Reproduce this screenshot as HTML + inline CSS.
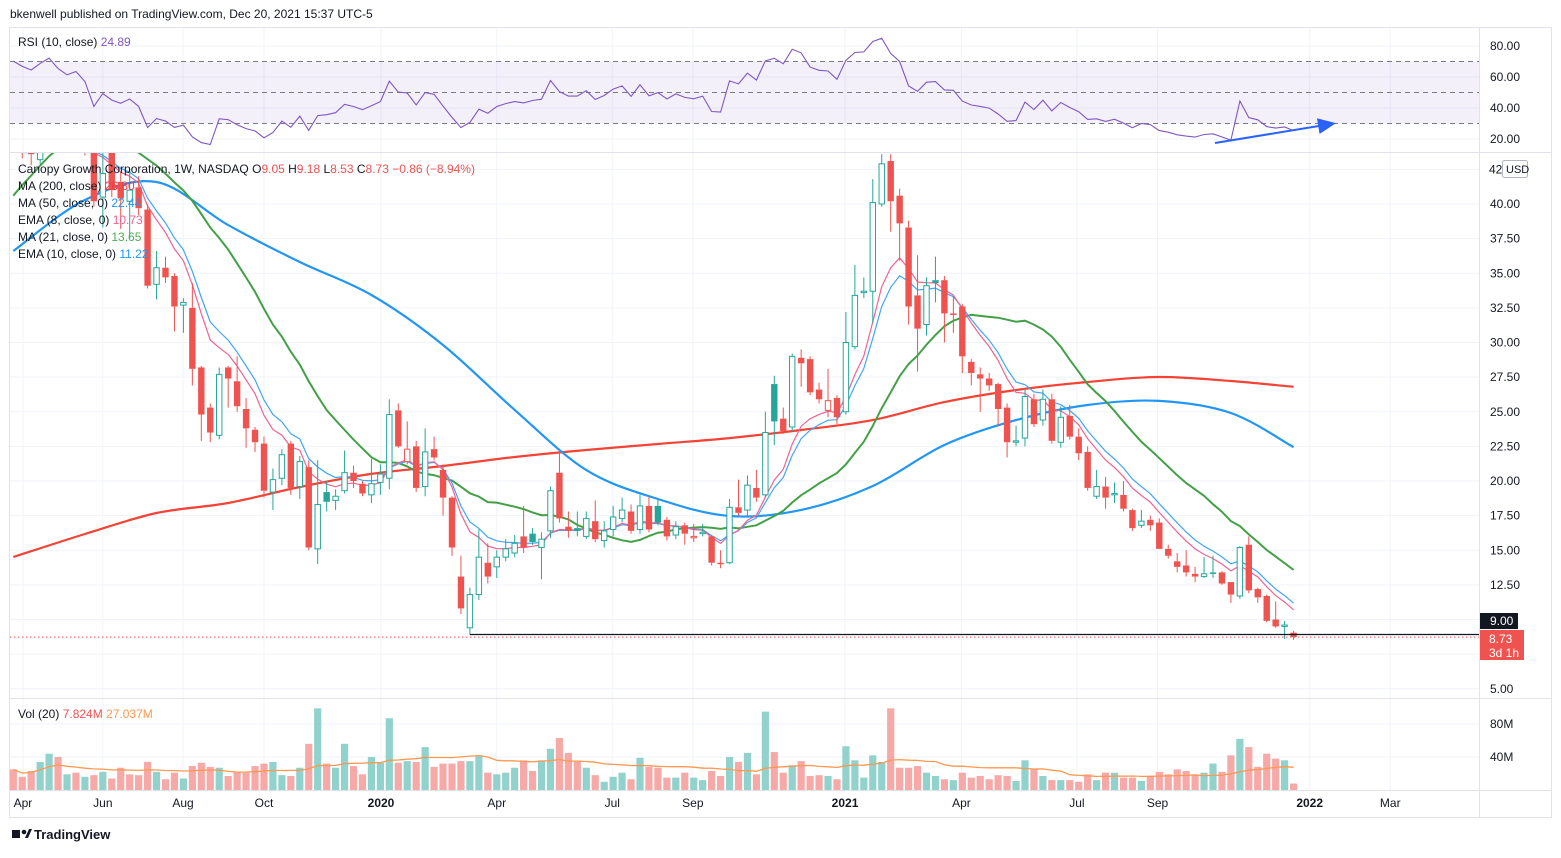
<!DOCTYPE html>
<html><head><meta charset="utf-8">
<style>
html,body{margin:0;padding:0;background:#fff;}
body{width:1561px;height:853px;overflow:hidden;font-family:"Liberation Sans",sans-serif;}
svg text{font-family:"Liberation Sans",sans-serif;}
</style></head>
<body>
<svg id="chart" width="1561" height="853" viewBox="0 0 1561 853" xmlns="http://www.w3.org/2000/svg">
<defs>
<clipPath id="pricePane"><rect x="10" y="153" width="1469" height="545"/></clipPath>
<clipPath id="rsiPane"><rect x="10" y="28" width="1469" height="124"/></clipPath>
<marker id="arrowHead" markerWidth="10" markerHeight="10" refX="8" refY="5" orient="auto"><path d="M0,1 L9,5 L0,9 z" fill="#2962ff"/></marker>
</defs>
<text x="10" y="18" font-size="12" fill="#131722">bkenwell published on TradingView.com, Dec 20, 2021 15:37 UTC-5</text>
<rect x="9.5" y="27.5" width="1542" height="790" fill="#fff" stroke="#e0e3eb"/>
<g id="grid"></g>
<rect x="10" y="61.5" width="1469" height="62" fill="#7e57c2" fill-opacity="0.09"/>
<g id="rsiG" clip-path="url(#rsiPane)"></g>
<g id="priceG" clip-path="url(#pricePane)"></g>
<g id="volG"></g>
<g id="axisG"></g>
<line x1="10" y1="152.5" x2="1551" y2="152.5" stroke="#e0e3eb"/>
<line x1="10" y1="698.5" x2="1551" y2="698.5" stroke="#e0e3eb"/>
<line x1="10" y1="790.5" x2="1551" y2="790.5" stroke="#e0e3eb"/>
<line x1="1479.5" y1="27" x2="1479.5" y2="818" stroke="#e0e3eb"/>
<line x1="1215" y1="143" x2="1334" y2="123.5" stroke="#2962ff" stroke-width="2" marker-end="url(#arrowHead)"/>
<text x="18" y="46" font-size="12" fill="#131722">RSI (10, close) <tspan fill="#7e57c2">24.89</tspan></text>
<g font-size="12" fill="#131722">
<text x="18" y="173">Canopy Growth Corporation, 1W, NASDAQ  O<tspan fill="#ef5350">9.05</tspan>  H<tspan fill="#ef5350">9.18</tspan>  L<tspan fill="#ef5350">8.53</tspan>  C<tspan fill="#ef5350">8.73</tspan>  <tspan fill="#ef5350">−0.86 (−8.94%)</tspan></text>
<text x="18" y="190">MA (200, close)  <tspan fill="#f23645">26.80</tspan></text>
<text x="18" y="207">MA (50, close, 0)  <tspan fill="#2196f3">22.44</tspan></text>
<text x="18" y="224">EMA (8, close, 0)  <tspan fill="#f06292">10.73</tspan></text>
<text x="18" y="241">MA (21, close, 0)  <tspan fill="#4caf50">13.65</tspan></text>
<text x="18" y="258">EMA (10, close, 0)  <tspan fill="#2196f3">11.22</tspan></text>
</g>
<text x="18" y="718" font-size="12" fill="#131722">Vol (20)  <tspan fill="#ef5350">7.824M</tspan>  <tspan fill="#ff9850">27.037M</tspan></text>
<g>
<rect x="12" y="830" width="8" height="8" fill="#131722"/><circle cx="24" cy="832" r="2.3" fill="#131722"/><path d="M25 838 L29 829 L32 829 L28 838 Z" fill="#131722"/>
<text x="34" y="839" font-size="13" font-weight="bold" fill="#131722">TradingView</text>
</g>
</svg>
<script>
const opens=[46.0,45.0,44.3,43.2,44.5,47.0,46.0,46.2,46.0,43.8,40.5,44.5,41.6,40.2,41.2,39.6,34.2,35.4,34.8,32.7,32.5,28.2,25.3,23.3,28.2,27.2,25.2,23.7,22.7,19.2,20.2,22.7,19.6,21.0,15.1,19.2,18.6,19.3,20.6,19.8,19.0,19.9,20.2,25.1,21.4,22.5,19.6,22.3,20.8,18.8,13.1,9.4,11.8,14.1,13.8,14.5,14.8,16.0,16.2,15.2,16.4,20.6,16.7,16.6,16.0,17.1,15.7,16.5,17.3,17.8,16.5,18.2,18.2,17.2,16.1,16.8,15.9,16.2,16.0,14.1,14.1,18.1,17.9,19.5,19.0,27.0,24.5,23.9,28.9,28.8,26.6,25.1,26.0,25.0,29.7,33.6,33.7,40.0,43.1,40.6,38.3,33.4,31.3,34.5,34.5,32.1,32.6,28.6,27.7,27.4,27.0,25.3,22.8,23.1,25.9,24.4,25.9,22.8,24.7,23.2,22.1,18.9,19.6,19.0,19.0,17.9,16.8,17.2,17.0,15.1,14.2,13.9,13.3,13.1,13.4,13.4,12.7,11.7,15.4,12.2,11.7,10.0,9.5,9.05];
const closes=[44.6,44.0,43.6,45.0,46.3,45.2,44.5,45.1,44.0,40.2,42.2,41.0,40.4,41.0,39.7,34.1,35.4,34.7,32.6,32.9,28.1,24.8,23.5,27.7,27.4,25.4,23.8,22.8,19.3,20.1,21.9,19.5,21.4,15.2,18.3,18.5,18.9,20.6,20.0,19.1,19.8,20.5,24.8,22.5,22.3,19.5,22.1,21.7,18.8,15.2,10.8,11.8,14.5,13.1,14.5,15.1,15.5,15.2,15.6,15.8,19.3,17.3,16.4,16.4,17.3,15.8,16.4,17.4,17.9,16.4,18.2,16.5,17.0,16.0,16.7,16.2,16.0,16.3,14.1,14.0,18.1,17.7,19.7,18.8,23.5,24.3,23.6,29.0,28.5,26.4,25.9,25.8,24.6,30.0,33.4,33.7,40.1,42.9,40.2,38.6,32.6,31.0,34.1,34.3,32.1,32.0,29.0,27.8,27.4,26.9,25.2,22.8,22.9,26.1,24.1,25.9,22.9,24.6,23.2,22.0,19.5,19.6,18.8,19.1,18.0,16.6,17.1,16.8,15.1,14.6,13.8,13.4,13.1,13.3,13.35,12.6,11.8,15.2,12.1,11.6,9.9,9.5,9.6,8.73];
const highs=[47.0,46.0,45.2,45.8,47.5,48.0,46.8,47.3,47.0,44.5,44.0,45.5,42.3,42.5,42.0,40.0,36.6,36.2,35.0,33.2,34.3,28.3,25.6,28.2,28.3,29.0,26.0,23.9,23.2,20.9,22.3,22.9,21.8,21.5,21.5,20.0,19.4,22.2,21.1,20.0,21.6,21.2,25.9,25.6,24.3,22.9,23.8,23.2,21.2,18.9,14.6,12.3,16.5,15.5,15.0,15.8,16.1,18.2,16.6,16.3,19.6,22.1,17.8,17.8,17.8,18.6,17.1,18.2,18.8,18.3,19.0,18.9,18.7,17.4,17.1,17.0,16.9,16.9,16.1,15.0,18.7,20.1,20.4,20.8,25.0,27.6,25.3,29.2,29.5,29.0,27.1,28.1,26.2,32.2,35.6,34.7,41.8,43.6,43.6,41.1,38.8,36.3,34.7,36.2,34.8,33.3,32.8,28.8,28.2,27.8,27.1,25.6,24.0,26.6,26.3,26.6,26.3,25.4,25.5,23.8,22.5,20.8,20.3,19.9,20.0,18.0,17.9,17.5,17.3,15.4,14.8,15.0,13.8,14.5,14.6,13.5,12.7,15.3,16.0,12.3,11.8,11.3,9.9,9.18];
const lows=[44.0,43.3,42.8,42.9,44.0,44.5,43.8,44.6,43.5,39.8,38.3,40.5,38.2,37.5,39.2,33.9,33.1,34.3,30.8,30.7,26.9,22.9,22.8,23.0,25.3,25.0,22.4,22.1,18.8,17.9,19.7,19.0,18.7,15.0,14.0,17.8,17.9,19.1,19.5,18.9,18.4,19.0,19.4,22.4,21.2,19.2,18.9,21.5,17.5,14.6,10.4,8.9,11.4,12.6,13.0,14.2,14.5,14.8,15.4,12.9,15.9,17.0,15.9,16.0,15.8,15.6,15.2,16.0,17.0,16.2,16.2,16.3,16.8,15.7,15.8,15.4,15.6,16.0,13.9,13.7,14.0,17.5,17.5,18.5,18.8,22.6,23.4,23.6,26.8,26.2,25.6,24.6,24.1,24.8,29.5,33.2,31.4,39.8,38.0,35.9,31.3,27.9,30.5,32.9,30.0,30.7,27.8,26.9,25.0,26.5,24.0,21.7,22.5,22.5,23.9,24.0,22.7,22.4,23.0,21.5,19.3,18.7,18.0,18.4,17.8,16.4,16.6,16.4,15.1,14.4,13.4,13.1,12.7,13.0,13.0,12.5,11.2,11.5,11.9,11.2,9.8,9.4,8.6,8.53];
const priorCloses=[28,29,30,32,34,36,38,40,42,44,46,47,46,45,44,45,47,46,45,44];
const volumes=[25,16,23,34,44,40,19,21,16,18,22,14,27,19,18,34,22,13,21,14,29,33,28,27,17,22,21,29,32,34,18,17,27,56,99,32,27,56,29,19,40,33,87,33,35,34,52,28,32,32,35,35,41,21,19,21,27,36,23,36,50,63,45,34,27,18,10,16,21,13,39,28,27,15,15,21,15,12,23,17,40,34,45,19,95,46,21,30,35,17,18,17,13,53,36,15,42,34,99,27,27,29,21,17,13,12,21,15,17,13,18,17,11,36,25,17,12,12,12,10,19,12,21,21,15,15,11,17,22,19,25,23,19,21,32,22,42,62,52,28,44,38,36,7.8];
const volUp=[0,0,0,1,1,0,1,0,1,0,1,0,0,0,0,0,1,0,0,1,0,0,0,1,0,0,0,0,0,1,1,0,1,0,1,0,1,1,0,0,1,1,1,0,1,0,1,0,0,0,0,1,1,0,1,1,1,0,0,1,1,0,0,0,1,0,1,1,1,0,1,0,0,0,1,0,1,1,0,0,1,0,1,0,1,0,0,1,0,0,0,1,0,1,1,1,1,1,0,0,0,0,1,1,0,1,0,0,0,0,0,0,1,1,0,1,0,1,0,0,0,1,0,1,0,0,1,0,0,0,0,0,0,1,1,0,0,1,0,0,0,0,1,0];
const ma200Samples=[14.51,16.17,17.69,18.41,19.57,20.51,21.08,21.73,22.24,22.67,23.10,23.68,24.40,25.70,26.57,27.15,27.51,27.22,26.80];
const ma50Samples=[36.61,40.29,41.59,38.48,35.81,33.43,29.82,25.13,20.79,18.70,17.47,17.91,19.64,22.60,24.40,25.49,25.78,24.91,22.44];
const sampleIdx=[0,8,16,24,32,40,48,56,64,72,80,88,96,104,112,120,128,136,143];
const priceTicks=[40,37.5,35,32.5,30,27.5,25,22.5,20,17.5,15,12.5,5];
const rsiTicks=[80,60,40,20];
const volTicks=[80,40];
const timeLabels=["Apr","Jun","Aug","Oct","2020","Apr","Jul","Sep","2021","Apr","Jul","Sep","2022","Mar"];
const timePos=[1.08,10.0,18.96,28.0,41.07,54.0,66.9,75.9,92.9,105.9,118.8,127.8,144.8,153.8];

const NS="http://www.w3.org/2000/svg";
const xI=i=>13.3+8.953*i;
const yP=p=>481-(p-20)*13.85;
const yR=v=>139-(v-20)*1.55;
const yV=v=>790-v*0.825;
function mk(tag,attrs,parent){const e=document.createElementNS(NS,tag);for(const k in attrs)e.setAttribute(k,attrs[k]);parent.appendChild(e);return e;}
const grid=document.getElementById('grid'),priceG=document.getElementById('priceG'),rsiG=document.getElementById('rsiG'),volG=document.getElementById('volG'),axisG=document.getElementById('axisG');

priceTicks.concat([42.5,10,7.5]).forEach(t=>{const l=mk('line',{x1:10,x2:1479,y1:yP(t),y2:yP(t),stroke:'#f0f3fa'},grid);

});
rsiTicks.forEach(t=>{const l=mk('line',{x1:10,x2:1479,y1:yR(t),y2:yR(t),stroke:'#f0f3fa'},grid);

});
volTicks.forEach(t=>{const l=mk('line',{x1:10,x2:1479,y1:yV(t),y2:yV(t),stroke:'#f0f3fa'},grid);

});
timePos.forEach(p=>{const l=mk('line',{x1:xI(p),x2:xI(p),y1:28,y2:790,stroke:'#f0f3fa'},grid);

});

const all=priorCloses.concat(closes), P=priorCloses.length;
function ema(n){const k=2/(n+1);let e=all[0];const out=[];all.forEach((c,j)=>{e=j?c*k+e*(1-k):c;if(j>=P)out.push(e);});return out;}
function sma(n){const out=[];for(let j=P;j<all.length;j++){let s=0,c=0;for(let m=Math.max(0,j-n+1);m<=j;m++){s+=all[m];c++;}out.push(s/c);}return out;}
function pathFrom(xs,ys){return xs.map((x,k)=>(k?'L':'M')+x.toFixed(1)+','+ys[k].toFixed(1)).join(' ');}
function smoothPath(xs,ys){let d='M'+xs[0].toFixed(1)+','+ys[0].toFixed(1);for(let k=0;k<xs.length-1;k++){const x0=xs[Math.max(k-1,0)],y0=ys[Math.max(k-1,0)],x1=xs[k],y1=ys[k],x2=xs[k+1],y2=ys[k+1],x3=xs[Math.min(k+2,xs.length-1)],y3=ys[Math.min(k+2,xs.length-1)];
d+=' C'+(x1+(x2-x0)/6).toFixed(1)+','+(y1+(y2-y0)/6).toFixed(1)+' '+(x2-(x3-x1)/6).toFixed(1)+','+(y2-(y3-y1)/6).toFixed(1)+' '+x2.toFixed(1)+','+y2.toFixed(1);}return d;}
function line(vals,color,w,name){const xs=vals.map((v,i)=>xI(i));const p=mk('path',{d:pathFrom(xs,vals.map(yP)),fill:'none',stroke:color,'stroke-width':w},priceG);

}
const m200=mk('path',{d:smoothPath(sampleIdx.map(xI),ma200Samples.map(yP)),fill:'none',stroke:'#f44336','stroke-width':2.2},priceG);


const m50=mk('path',{d:smoothPath(sampleIdx.map(xI),ma50Samples.map(yP)),fill:'none',stroke:'#2196f3','stroke-width':2.2},priceG);


line(sma(21),'#43a047',2,'ma21-line');
line(ema(10),'#42a5f5',1.2,'ema10-line');
line(ema(8),'#f06292',1.2,'ema8-line');

closes.forEach((c,i)=>{const o=opens[i];const prev=i?closes[i-1]:opens[i];const col=c>=prev?'#26a69a':'#ef5350';const x=xI(i);
const g=mk('g',{},priceG);


const top=yP(Math.max(o,c)),bot=yP(Math.min(o,c));
mk('line',{x1:x,x2:x,y1:yP(highs[i]),y2:top,stroke:col,'stroke-width':1},g);
mk('line',{x1:x,x2:x,y1:bot,y2:yP(lows[i]),stroke:col,'stroke-width':1},g);
if(c>o){mk('rect',{x:x-2.7,y:top,width:5.4,height:Math.max(bot-top,1),fill:'#fff',stroke:col,'stroke-width':1},g);}
else{mk('rect',{x:x-3.2,y:top,width:6.4,height:Math.max(bot-top,1.5),fill:col},g);}
});
const sup=mk('line',{x1:470,x2:1479,y1:634.5,y2:634.5,stroke:'#131722','stroke-width':1.2},priceG);


const lp=mk('line',{x1:10,x2:1479,y1:yP(closes[closes.length-1]),y2:yP(closes[closes.length-1]),stroke:'#ef5350','stroke-dasharray':'1.5 2.5'},priceG);



[70,50,30].forEach(v=>{const l=mk('line',{x1:10,x2:1479,y1:yR(v),y2:yR(v),stroke:'#787b86','stroke-dasharray':'5 4'},rsiG);

});
(function(){const n=10;let ag=0,al=0;const out=[];for(let j=1;j<all.length;j++){const d=all[j]-all[j-1];const g=Math.max(d,0),l=Math.max(-d,0);if(j<=n){ag+=g/n;al+=l/n;}else{ag=(ag*(n-1)+g)/n;al=(al*(n-1)+l)/n;}if(j>=P)out.push(al===0?100:100-100/(1+ag/al));}
const p=mk('path',{d:pathFrom(out.map((v,i)=>xI(i)),out.map(yR)),fill:'none',stroke:'#7e57c2','stroke-width':1.1},rsiG);

})();

volumes.forEach((v,i)=>{const r=mk('rect',{x:xI(i)-3.6,y:yV(v),width:7.2,height:790-yV(v),fill:volUp[i]?'#92d2cc':'#f7a9a7'},volG);

});
(function(){const out=volumes.map((v,i)=>{let s=0,c=0;for(let m=Math.max(0,i-19);m<=i;m++){s+=volumes[m];c++;}return s/c;});
const p=mk('path',{d:pathFrom(out.map((v,i)=>xI(i)),out.map(yV)),fill:'none',stroke:'#ff9850','stroke-width':1.3},volG);

})();

function txt(s,x,y,attrs,name){const t=mk('text',Object.assign({x:x,y:y,'font-size':12,fill:'#131722'},attrs||{}),axisG);t.textContent=s;

return t;}
priceTicks.forEach(t=>txt(t.toFixed(2),1490,yP(t)+4,{},'price-tick-label'));
txt('42',1489,yP(42.5)+4,{},'price-tick-label');
rsiTicks.forEach(t=>txt(t.toFixed(2),1490,yR(t)+4,{},'rsi-tick-label'));
volTicks.forEach(t=>txt(t+'M',1490,yV(t)+4,{},'volume-tick-label'));
timeLabels.forEach((s,k)=>txt(s,xI(timePos[k]),807,{'text-anchor':'middle','font-weight':/^20/.test(s)?'bold':'normal'},'time-axis-label'));
const usd=mk('rect',{x:1502.5,y:160.5,width:25,height:17,rx:2,fill:'#fff',stroke:'#b2b5be'},axisG);


txt('USD',1506,173,{'font-size':11},'currency-label');
const b9=mk('rect',{x:1479,y:613,width:39,height:16,fill:'#131722'},axisG);


txt('9.00',1490,625,{fill:'#fff'},'support-price-label');
const b8=mk('rect',{x:1479,y:630,width:45,height:30,fill:'#ef5350'},axisG);


txt('8.73',1489,643,{fill:'#fff'},'last-price-label');
txt('3d 1h',1489,657,{fill:'#fff'},'bar-countdown-label');
</script>
</body></html>
